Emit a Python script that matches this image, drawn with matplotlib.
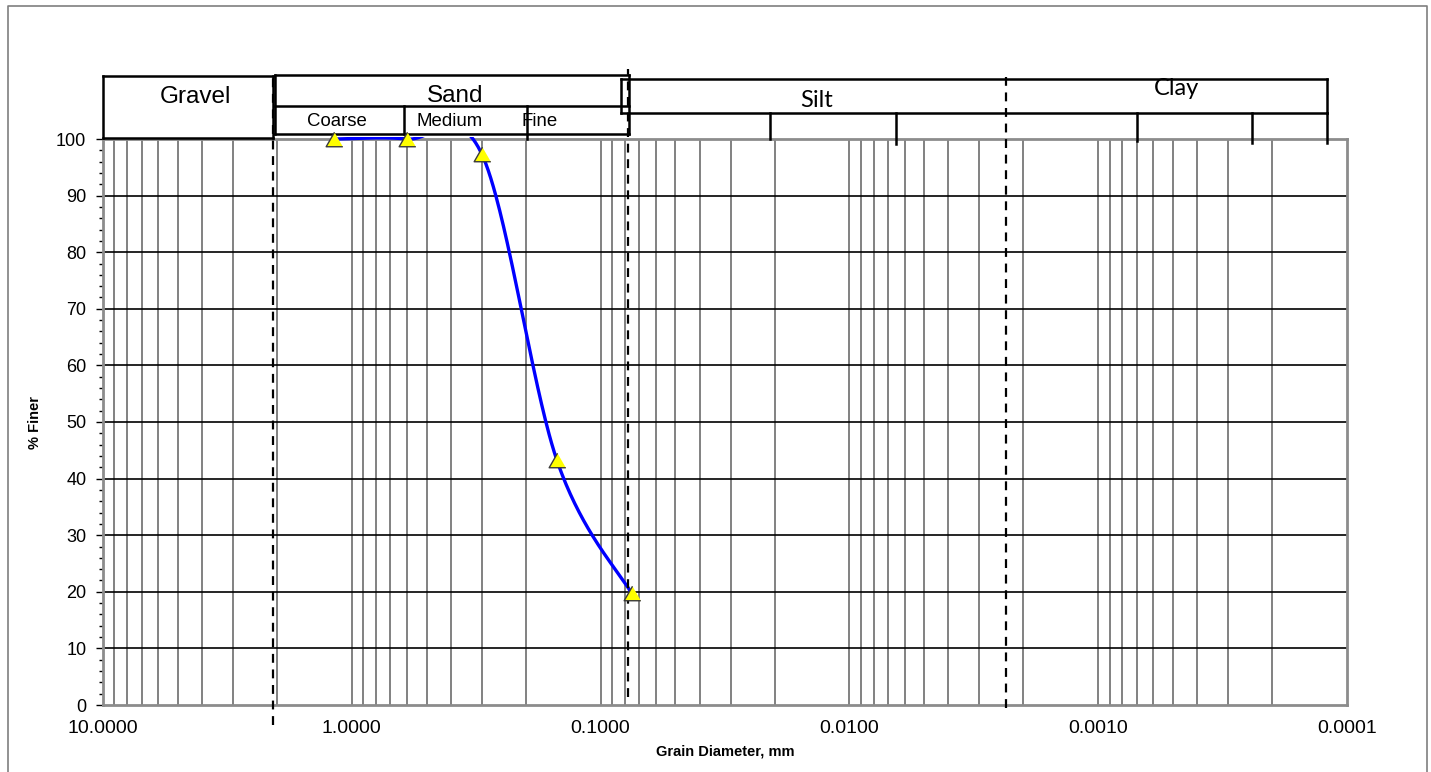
import numpy as np
import matplotlib
matplotlib.use("Agg")
import matplotlib.pyplot as plt
import matplotlib.transforms as mtransforms
from matplotlib.lines import Line2D
from matplotlib.ticker import FixedLocator, NullLocator

# ---- sieve analysis results ----
grain_mm = [1.18, 0.60, 0.30, 0.15, 0.075]
pct_finer = [100.0, 100.0, 97.3, 43.3, 19.7]

x_ticks = [10, 1, 0.1, 0.01, 0.001, 0.0001]
x_tick_labels = ["10.0000", "1.0000", "0.1000", "0.0100", "0.0010", "0.0001"]
y_ticks = list(range(0, 101, 10))
y_minor_ticks = list(range(0, 101, 2))

# ---- soil classification header (grain size limits in mm) ----
gravel_span = (10.0, 2.08)
sand_span = (2.04, 0.077)
sand_splits = [0.617, 0.198]
fines_span = (0.083, 0.00012)
fines_ticks = [0.0208, 0.0065, 0.0007, 0.00024, 0.00012]
class_limits = [2.08, 0.0778, 0.00235]
main_labels = [("Gravel", 4.27), ("Sand", 0.385)]
sand_labels = [("Coarse", 1.147), ("Medium", 0.403), ("Fine", 0.176)]
fines_labels = [("Silt", 0.0135), ("Clay", 0.000483)]

W, H = 1431, 772
plt.rcParams["font.family"] = ["Liberation Sans", "DejaVu Sans"]

fig = plt.figure(figsize=(W / 100, H / 100), dpi=100)
ax = fig.add_axes([103 / W, 67 / H, 1244 / W, 566 / H])
ax.set_xscale("log")
ax.set_xlim(10, 0.0001)
ax.set_ylim(0, 100)

# grid: log-cycle verticals, every 10 % horizontals
for dec in [10, 1, 0.1, 0.01, 0.001]:
    for m in range(1, 10):
        v = dec * m / 10 if m > 1 else dec / 10
        if 0.0001 < v < 10:
            ax.axvline(v, color="#5f5f5f", lw=1.1, zorder=1)
for y in y_ticks[1:-1]:
    ax.axhline(y, color="black", lw=1.2, zorder=1)

for s in ax.spines.values():
    s.set_color("#8c8c8c")
    s.set_linewidth(2)

ax.xaxis.set_major_locator(FixedLocator(x_ticks))
ax.set_xticklabels(x_tick_labels)
ax.xaxis.set_minor_locator(NullLocator())
ax.tick_params(axis="x", which="major", length=0, pad=11, labelsize=14)

ax.yaxis.set_major_locator(FixedLocator(y_ticks))
ax.yaxis.set_minor_locator(FixedLocator(y_minor_ticks))
ax.tick_params(axis="y", which="major", length=5, width=1, color="black",
               pad=7, labelsize=13)
ax.tick_params(axis="y", which="minor", length=3, width=1, color="black")

# smoothed gradation curve (cubic Bezier through the points, built in display space)
ax.figure.canvas.draw()
pts = ax.transData.transform(np.column_stack([grain_mm, pct_finer]))
n = len(pts)
curve = []
for i in range(n - 1):
    p0 = pts[i - 1] if i > 0 else pts[i]
    p1, p2 = pts[i], pts[i + 1]
    p3 = pts[i + 2] if i + 2 < n else pts[i + 1]
    c1 = p1 + (p2 - p0) / 6.0
    c2 = p2 - (p3 - p1) / 6.0
    t = np.linspace(0, 1, 60)[:, None]
    seg = ((1 - t) ** 3) * p1 + 3 * ((1 - t) ** 2) * t * c1 + 3 * (1 - t) * t ** 2 * c2 + t ** 3 * p2
    curve.append(seg if i == 0 else seg[1:])
curve = ax.transData.inverted().transform(np.vstack(curve))
line, = ax.plot(curve[:, 0], curve[:, 1], color="#0000ff", lw=2.4, zorder=3)
# let the curve sit on the top border instead of being half hidden by it
clip = mtransforms.TransformedBbox(
    mtransforms.Bbox([[0, 0], [1, 1.004]]), ax.transAxes)
line.set_clip_box(clip)

tri = [(0, 1), (-1.15, -1), (1.15, -1)]
ax.plot(grain_mm, pct_finer, linestyle="none", marker=tri, markersize=12,
        markerfacecolor="#ffff00", markeredgecolor="#3a3a3a", markeredgewidth=1,
        zorder=6, clip_on=False)

# header boxes above the plot (x in mm, y in axes fraction)
hdr = mtransforms.blended_transform_factory(ax.transData, ax.transAxes)


def seg(x0, x1, y0, y1, **kw):
    kw.setdefault("color", "black")
    kw.setdefault("lw", 1.8)
    ax.add_line(Line2D([x0, x1], [y0, y1], transform=hdr, clip_on=False, zorder=5, **kw))


def box(xa, xb, ya, yb, **kw):
    seg(xa, xb, ya, ya, **kw)
    seg(xa, xb, yb, yb, **kw)
    seg(xa, xa, ya, yb, **kw)
    seg(xb, xb, ya, yb, **kw)


box(gravel_span[0], gravel_span[1], 1.0023, 1.1118)
box(sand_span[0], sand_span[1], 1.0083, 1.1131)
seg(sand_span[0], sand_span[1], 1.0588, 1.0588)
seg(sand_splits[0], sand_splits[0], 1.0083, 1.0588)
seg(sand_splits[1], sand_splits[1], 1.0, 1.0588)
box(fines_span[0], fines_span[1], 1.0454, 1.1060)
tick_bottoms = [0.9995, 0.9912, 0.9965, 0.9929, 0.9929]
for xv, yb in zip(fines_ticks, tick_bottoms):
    seg(xv, xv, yb, 1.0454)

dash_spans = [(-0.0353, 1.1131), (0.0141, 1.1237), (-0.0053, 1.1095)]
for xv, (ya, yb) in zip(class_limits, dash_spans):
    seg(xv, xv, ya, yb, lw=1.6, linestyle=(0, (4, 3)))

for (txt, xv), yb in zip(main_labels, [1.0631, 1.0648]):
    ax.text(xv, yb, txt, transform=hdr, ha="center", va="baseline", fontsize=17.5)
for txt, xv in sand_labels:
    ax.text(xv, 1.0230, txt, transform=hdr, ha="center", va="baseline", fontsize=13.4)
for (txt, xv), yb in zip(fines_labels, [1.0560, 1.0777]):
    ax.text(xv, yb, txt, transform=hdr, ha="center", va="baseline", fontsize=17,
            family=["Lato", "DejaVu Sans"])

# axis titles
fig.text(35 / W, 1 - 422 / H, "% Finer", rotation=90, ha="center", va="center",
         fontsize=10.5, fontweight="bold")
fig.text(725 / W, 1 - 752 / H, "Grain Diameter, mm", ha="center", va="center",
         fontsize=10.5, fontweight="bold")

# chart area border
fx = [8 / W, 8 / W, 1427 / W, 1427 / W]
fy = [0, 1 - 6 / H, 1 - 6 / H, 0]
fig.add_artist(Line2D(fx, fy, transform=fig.transFigure, color="#7f7f7f", lw=1.2))

fig.savefig("out.png", dpi=100)
